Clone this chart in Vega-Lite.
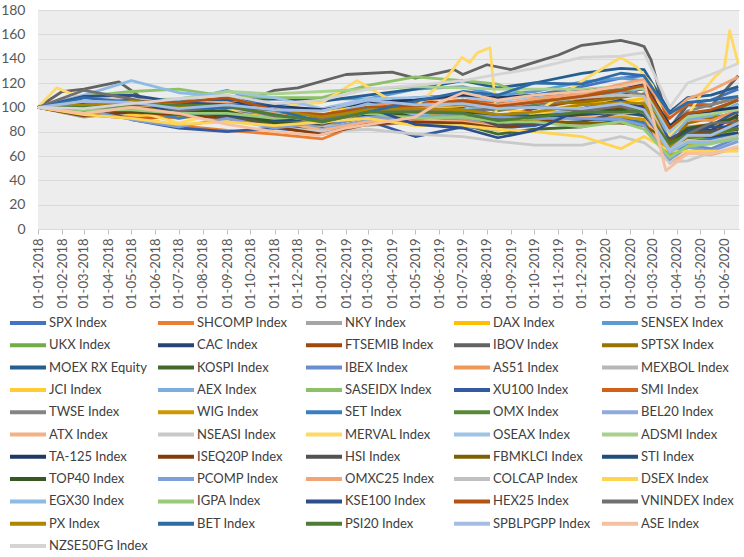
{
"$schema":"https://vega.github.io/schema/vega-lite/v6.json",
"width":701,"height":219,
"autosize":{"type":"none"},
"padding":{"left":38,"top":10,"right":5,"bottom":328},
"background":"white",
"config":{"view":{"fill":"#EDEDED","stroke":null},"font":"Lato"},
"data":{"values":[
{"s":"SPX","d":"2018-01","v":100},{"s":"SPX","d":"2018-03","v":101},{"s":"SPX","d":"2018-05","v":98},{"s":"SPX","d":"2018-07","v":101},{"s":"SPX","d":"2018-09","v":108},{"s":"SPX","d":"2018-11","v":101},{"s":"SPX","d":"2019-01","v":93},{"s":"SPX","d":"2019-03","v":104},{"s":"SPX","d":"2019-05","v":108},{"s":"SPX","d":"2019-07","v":110},{"s":"SPX","d":"2019-08-15","v":106},{"s":"SPX","d":"2019-10","v":110},{"s":"SPX","d":"2019-12","v":117},{"s":"SPX","d":"2020-01-20","v":124},{"s":"SPX","d":"2020-02-19","v":126},{"s":"SPX","d":"2020-03-23","v":83},{"s":"SPX","d":"2020-04-15","v":103},{"s":"SPX","d":"2020-05-15","v":106},{"s":"SPX","d":"2020-06-19","v":115},
{"s":"SHCOMP","d":"2018-01","v":100},{"s":"SHCOMP","d":"2018-03","v":98},{"s":"SHCOMP","d":"2018-05","v":92},{"s":"SHCOMP","d":"2018-07","v":85},{"s":"SHCOMP","d":"2018-09","v":81},{"s":"SHCOMP","d":"2018-11","v":78},{"s":"SHCOMP","d":"2019-01","v":74},{"s":"SHCOMP","d":"2019-03","v":89},{"s":"SHCOMP","d":"2019-05","v":92},{"s":"SHCOMP","d":"2019-07","v":90},{"s":"SHCOMP","d":"2019-08-15","v":84},{"s":"SHCOMP","d":"2019-10","v":87},{"s":"SHCOMP","d":"2019-12","v":86},{"s":"SHCOMP","d":"2020-01-20","v":92},{"s":"SHCOMP","d":"2020-02-19","v":89},{"s":"SHCOMP","d":"2020-03-23","v":79},{"s":"SHCOMP","d":"2020-04-15","v":84},{"s":"SHCOMP","d":"2020-05-15","v":86},{"s":"SHCOMP","d":"2020-06-19","v":89},
{"s":"NKY","d":"2018-01","v":100},{"s":"NKY","d":"2018-03","v":92},{"s":"NKY","d":"2018-05","v":96},{"s":"NKY","d":"2018-07","v":95},{"s":"NKY","d":"2018-09","v":97},{"s":"NKY","d":"2018-11","v":92},{"s":"NKY","d":"2019-01","v":85},{"s":"NKY","d":"2019-03","v":92},{"s":"NKY","d":"2019-05","v":95},{"s":"NKY","d":"2019-07","v":91},{"s":"NKY","d":"2019-08-15","v":87},{"s":"NKY","d":"2019-10","v":93},{"s":"NKY","d":"2019-12","v":99},{"s":"NKY","d":"2020-01-20","v":102},{"s":"NKY","d":"2020-02-19","v":100},{"s":"NKY","d":"2020-03-23","v":72},{"s":"NKY","d":"2020-04-15","v":83},{"s":"NKY","d":"2020-05-15","v":85},{"s":"NKY","d":"2020-06-19","v":96},
{"s":"DAX","d":"2018-01","v":100},{"s":"DAX","d":"2018-03","v":95},{"s":"DAX","d":"2018-05","v":98},{"s":"DAX","d":"2018-07","v":96},{"s":"DAX","d":"2018-09","v":96},{"s":"DAX","d":"2018-11","v":89},{"s":"DAX","d":"2019-01","v":82},{"s":"DAX","d":"2019-03","v":89},{"s":"DAX","d":"2019-05","v":96},{"s":"DAX","d":"2019-07","v":97},{"s":"DAX","d":"2019-08-15","v":89},{"s":"DAX","d":"2019-10","v":95},{"s":"DAX","d":"2019-12","v":103},{"s":"DAX","d":"2020-01-20","v":105},{"s":"DAX","d":"2020-02-19","v":107},{"s":"DAX","d":"2020-03-23","v":68},{"s":"DAX","d":"2020-04-15","v":80},{"s":"DAX","d":"2020-05-15","v":81},{"s":"DAX","d":"2020-06-19","v":96},
{"s":"SENSEX","d":"2018-01","v":100},{"s":"SENSEX","d":"2018-03","v":101},{"s":"SENSEX","d":"2018-05","v":104},{"s":"SENSEX","d":"2018-07","v":105},{"s":"SENSEX","d":"2018-09","v":114},{"s":"SENSEX","d":"2018-11","v":102},{"s":"SENSEX","d":"2019-01","v":107},{"s":"SENSEX","d":"2019-03","v":107},{"s":"SENSEX","d":"2019-05","v":115},{"s":"SENSEX","d":"2019-07","v":117},{"s":"SENSEX","d":"2019-08-15","v":110},{"s":"SENSEX","d":"2019-10","v":113},{"s":"SENSEX","d":"2019-12","v":121},{"s":"SENSEX","d":"2020-01-20","v":124},{"s":"SENSEX","d":"2020-02-19","v":122},{"s":"SENSEX","d":"2020-03-23","v":77},{"s":"SENSEX","d":"2020-04-15","v":90},{"s":"SENSEX","d":"2020-05-15","v":92},{"s":"SENSEX","d":"2020-06-19","v":103},
{"s":"UKX","d":"2018-01","v":100},{"s":"UKX","d":"2018-03","v":93},{"s":"UKX","d":"2018-05","v":98},{"s":"UKX","d":"2018-07","v":99},{"s":"UKX","d":"2018-09","v":97},{"s":"UKX","d":"2018-11","v":93},{"s":"UKX","d":"2019-01","v":88},{"s":"UKX","d":"2019-03","v":92},{"s":"UKX","d":"2019-05","v":96},{"s":"UKX","d":"2019-07","v":98},{"s":"UKX","d":"2019-08-15","v":92},{"s":"UKX","d":"2019-10","v":96},{"s":"UKX","d":"2019-12","v":95},{"s":"UKX","d":"2020-01-20","v":100},{"s":"UKX","d":"2020-02-19","v":97},{"s":"UKX","d":"2020-03-23","v":65},{"s":"UKX","d":"2020-04-15","v":73},{"s":"UKX","d":"2020-05-15","v":75},{"s":"UKX","d":"2020-06-19","v":82},
{"s":"CAC","d":"2018-01","v":100},{"s":"CAC","d":"2018-03","v":99},{"s":"CAC","d":"2018-05","v":104},{"s":"CAC","d":"2018-07","v":100},{"s":"CAC","d":"2018-09","v":102},{"s":"CAC","d":"2018-11","v":96},{"s":"CAC","d":"2019-01","v":89},{"s":"CAC","d":"2019-03","v":99},{"s":"CAC","d":"2019-05","v":104},{"s":"CAC","d":"2019-07","v":104},{"s":"CAC","d":"2019-08-15","v":99},{"s":"CAC","d":"2019-10","v":102},{"s":"CAC","d":"2019-12","v":111},{"s":"CAC","d":"2020-01-20","v":114},{"s":"CAC","d":"2020-02-19","v":115},{"s":"CAC","d":"2020-03-23","v":71},{"s":"CAC","d":"2020-04-15","v":82},{"s":"CAC","d":"2020-05-15","v":81},{"s":"CAC","d":"2020-06-19","v":94},
{"s":"FTSEMIB","d":"2018-01","v":100},{"s":"FTSEMIB","d":"2018-03","v":102},{"s":"FTSEMIB","d":"2018-05","v":110},{"s":"FTSEMIB","d":"2018-07","v":99},{"s":"FTSEMIB","d":"2018-09","v":93},{"s":"FTSEMIB","d":"2018-11","v":87},{"s":"FTSEMIB","d":"2019-01","v":84},{"s":"FTSEMIB","d":"2019-03","v":94},{"s":"FTSEMIB","d":"2019-05","v":100},{"s":"FTSEMIB","d":"2019-07","v":99},{"s":"FTSEMIB","d":"2019-08-15","v":92},{"s":"FTSEMIB","d":"2019-10","v":99},{"s":"FTSEMIB","d":"2019-12","v":106},{"s":"FTSEMIB","d":"2020-01-20","v":110},{"s":"FTSEMIB","d":"2020-02-19","v":116},{"s":"FTSEMIB","d":"2020-03-23","v":69},{"s":"FTSEMIB","d":"2020-04-15","v":80},{"s":"FTSEMIB","d":"2020-05-15","v":77},{"s":"FTSEMIB","d":"2020-06-19","v":90},
{"s":"IBOV","d":"2018-01","v":100},{"s":"IBOV","d":"2018-02","v":113},{"s":"IBOV","d":"2018-03","v":115},{"s":"IBOV","d":"2018-04-15","v":121},{"s":"IBOV","d":"2018-06","v":100},{"s":"IBOV","d":"2018-07","v":96},{"s":"IBOV","d":"2018-09","v":98},{"s":"IBOV","d":"2018-10-15","v":110},{"s":"IBOV","d":"2018-11","v":114},{"s":"IBOV","d":"2018-12","v":116},{"s":"IBOV","d":"2019-02","v":127},{"s":"IBOV","d":"2019-04","v":129},{"s":"IBOV","d":"2019-05","v":124},{"s":"IBOV","d":"2019-06-20","v":131},{"s":"IBOV","d":"2019-07","v":127},{"s":"IBOV","d":"2019-08","v":135},{"s":"IBOV","d":"2019-09","v":131},{"s":"IBOV","d":"2019-10","v":137},{"s":"IBOV","d":"2019-11","v":143},{"s":"IBOV","d":"2019-12","v":151},{"s":"IBOV","d":"2020-01-20","v":155},{"s":"IBOV","d":"2020-02-10","v":152},{"s":"IBOV","d":"2020-02-19","v":150},{"s":"IBOV","d":"2020-02-28","v":139},{"s":"IBOV","d":"2020-03-23","v":82},{"s":"IBOV","d":"2020-04-15","v":102},{"s":"IBOV","d":"2020-05-15","v":101},{"s":"IBOV","d":"2020-06-19","v":126},
{"s":"SPTSX","d":"2018-01","v":100},{"s":"SPTSX","d":"2018-03","v":95},{"s":"SPTSX","d":"2018-05","v":96},{"s":"SPTSX","d":"2018-07","v":100},{"s":"SPTSX","d":"2018-09","v":100},{"s":"SPTSX","d":"2018-11","v":93},{"s":"SPTSX","d":"2019-01","v":88},{"s":"SPTSX","d":"2019-03","v":99},{"s":"SPTSX","d":"2019-05","v":102},{"s":"SPTSX","d":"2019-07","v":101},{"s":"SPTSX","d":"2019-08-15","v":100},{"s":"SPTSX","d":"2019-10","v":103},{"s":"SPTSX","d":"2019-12","v":104},{"s":"SPTSX","d":"2020-01-20","v":108},{"s":"SPTSX","d":"2020-02-19","v":111},{"s":"SPTSX","d":"2020-03-23","v":69},{"s":"SPTSX","d":"2020-04-15","v":87},{"s":"SPTSX","d":"2020-05-15","v":91},{"s":"SPTSX","d":"2020-06-19","v":96},
{"s":"MOEX RX","d":"2018-01","v":100},{"s":"MOEX RX","d":"2018-03","v":107},{"s":"MOEX RX","d":"2018-05","v":103},{"s":"MOEX RX","d":"2018-07","v":104},{"s":"MOEX RX","d":"2018-09","v":106},{"s":"MOEX RX","d":"2018-11","v":107},{"s":"MOEX RX","d":"2019-01","v":105},{"s":"MOEX RX","d":"2019-03","v":110},{"s":"MOEX RX","d":"2019-05","v":115},{"s":"MOEX RX","d":"2019-07","v":122},{"s":"MOEX RX","d":"2019-08-15","v":116},{"s":"MOEX RX","d":"2019-10","v":120},{"s":"MOEX RX","d":"2019-12","v":128},{"s":"MOEX RX","d":"2020-01-20","v":132},{"s":"MOEX RX","d":"2020-02-19","v":131},{"s":"MOEX RX","d":"2020-03-23","v":96},{"s":"MOEX RX","d":"2020-04-15","v":108},{"s":"MOEX RX","d":"2020-05-15","v":110},{"s":"MOEX RX","d":"2020-06-19","v":117},
{"s":"KOSPI","d":"2018-01","v":100},{"s":"KOSPI","d":"2018-03","v":98},{"s":"KOSPI","d":"2018-05","v":101},{"s":"KOSPI","d":"2018-07","v":94},{"s":"KOSPI","d":"2018-09","v":93},{"s":"KOSPI","d":"2018-11","v":85},{"s":"KOSPI","d":"2019-01","v":82},{"s":"KOSPI","d":"2019-03","v":89},{"s":"KOSPI","d":"2019-05","v":89},{"s":"KOSPI","d":"2019-07","v":86},{"s":"KOSPI","d":"2019-08-15","v":78},{"s":"KOSPI","d":"2019-10","v":82},{"s":"KOSPI","d":"2019-12","v":84},{"s":"KOSPI","d":"2020-01-20","v":91},{"s":"KOSPI","d":"2020-02-19","v":89},{"s":"KOSPI","d":"2020-03-23","v":60},{"s":"KOSPI","d":"2020-04-15","v":75},{"s":"KOSPI","d":"2020-05-15","v":78},{"s":"KOSPI","d":"2020-06-19","v":86},
{"s":"IBEX","d":"2018-01","v":100},{"s":"IBEX","d":"2018-03","v":96},{"s":"IBEX","d":"2018-05","v":99},{"s":"IBEX","d":"2018-07","v":96},{"s":"IBEX","d":"2018-09","v":94},{"s":"IBEX","d":"2018-11","v":90},{"s":"IBEX","d":"2019-01","v":85},{"s":"IBEX","d":"2019-03","v":92},{"s":"IBEX","d":"2019-05","v":92},{"s":"IBEX","d":"2019-07","v":92},{"s":"IBEX","d":"2019-08-15","v":87},{"s":"IBEX","d":"2019-10","v":91},{"s":"IBEX","d":"2019-12","v":93},{"s":"IBEX","d":"2020-01-20","v":96},{"s":"IBEX","d":"2020-02-19","v":100},{"s":"IBEX","d":"2020-03-23","v":62},{"s":"IBEX","d":"2020-04-15","v":69},{"s":"IBEX","d":"2020-05-15","v":66},{"s":"IBEX","d":"2020-06-19","v":75},
{"s":"AS51","d":"2018-01","v":100},{"s":"AS51","d":"2018-03","v":97},{"s":"AS51","d":"2018-05","v":99},{"s":"AS51","d":"2018-07","v":102},{"s":"AS51","d":"2018-09","v":104},{"s":"AS51","d":"2018-11","v":96},{"s":"AS51","d":"2019-01","v":93},{"s":"AS51","d":"2019-03","v":102},{"s":"AS51","d":"2019-05","v":105},{"s":"AS51","d":"2019-07","v":109},{"s":"AS51","d":"2019-08-15","v":105},{"s":"AS51","d":"2019-10","v":110},{"s":"AS51","d":"2019-12","v":111},{"s":"AS51","d":"2020-01-20","v":117},{"s":"AS51","d":"2020-02-19","v":118},{"s":"AS51","d":"2020-03-23","v":75},{"s":"AS51","d":"2020-04-15","v":90},{"s":"AS51","d":"2020-05-15","v":89},{"s":"AS51","d":"2020-06-19","v":98},
{"s":"MEXBOL","d":"2018-01","v":100},{"s":"MEXBOL","d":"2018-03","v":95},{"s":"MEXBOL","d":"2018-05","v":94},{"s":"MEXBOL","d":"2018-07","v":97},{"s":"MEXBOL","d":"2018-09","v":100},{"s":"MEXBOL","d":"2018-11","v":87},{"s":"MEXBOL","d":"2019-01","v":85},{"s":"MEXBOL","d":"2019-03","v":85},{"s":"MEXBOL","d":"2019-05","v":88},{"s":"MEXBOL","d":"2019-07","v":85},{"s":"MEXBOL","d":"2019-08-15","v":81},{"s":"MEXBOL","d":"2019-10","v":87},{"s":"MEXBOL","d":"2019-12","v":86},{"s":"MEXBOL","d":"2020-01-20","v":92},{"s":"MEXBOL","d":"2020-02-19","v":90},{"s":"MEXBOL","d":"2020-03-23","v":67},{"s":"MEXBOL","d":"2020-04-15","v":70},{"s":"MEXBOL","d":"2020-05-15","v":72},{"s":"MEXBOL","d":"2020-06-19","v":78},
{"s":"JCI","d":"2018-01","v":100},{"s":"JCI","d":"2018-03","v":104},{"s":"JCI","d":"2018-05","v":94},{"s":"JCI","d":"2018-07","v":91},{"s":"JCI","d":"2018-09","v":95},{"s":"JCI","d":"2018-11","v":92},{"s":"JCI","d":"2019-01","v":97},{"s":"JCI","d":"2019-03","v":101},{"s":"JCI","d":"2019-05","v":99},{"s":"JCI","d":"2019-07","v":100},{"s":"JCI","d":"2019-08-15","v":99},{"s":"JCI","d":"2019-10","v":95},{"s":"JCI","d":"2019-12","v":96},{"s":"JCI","d":"2020-01-20","v":98},{"s":"JCI","d":"2020-02-19","v":93},{"s":"JCI","d":"2020-03-23","v":63},{"s":"JCI","d":"2020-04-15","v":73},{"s":"JCI","d":"2020-05-15","v":71},{"s":"JCI","d":"2020-06-19","v":78},
{"s":"AEX","d":"2018-01","v":100},{"s":"AEX","d":"2018-03","v":95},{"s":"AEX","d":"2018-05","v":103},{"s":"AEX","d":"2018-07","v":101},{"s":"AEX","d":"2018-09","v":101},{"s":"AEX","d":"2018-11","v":95},{"s":"AEX","d":"2019-01","v":90},{"s":"AEX","d":"2019-03","v":99},{"s":"AEX","d":"2019-05","v":102},{"s":"AEX","d":"2019-07","v":106},{"s":"AEX","d":"2019-08-15","v":100},{"s":"AEX","d":"2019-10","v":105},{"s":"AEX","d":"2019-12","v":110},{"s":"AEX","d":"2020-01-20","v":112},{"s":"AEX","d":"2020-02-19","v":116},{"s":"AEX","d":"2020-03-23","v":75},{"s":"AEX","d":"2020-04-15","v":90},{"s":"AEX","d":"2020-05-15","v":93},{"s":"AEX","d":"2020-06-19","v":103},
{"s":"SASEIDX","d":"2018-01","v":100},{"s":"SASEIDX","d":"2018-03","v":109},{"s":"SASEIDX","d":"2018-05","v":113},{"s":"SASEIDX","d":"2018-07","v":115},{"s":"SASEIDX","d":"2018-09","v":109},{"s":"SASEIDX","d":"2018-11","v":108},{"s":"SASEIDX","d":"2019-01","v":108},{"s":"SASEIDX","d":"2019-03","v":118},{"s":"SASEIDX","d":"2019-05","v":125},{"s":"SASEIDX","d":"2019-07","v":122},{"s":"SASEIDX","d":"2019-08-15","v":119},{"s":"SASEIDX","d":"2019-10","v":108},{"s":"SASEIDX","d":"2019-12","v":109},{"s":"SASEIDX","d":"2020-01-20","v":116},{"s":"SASEIDX","d":"2020-02-19","v":109},{"s":"SASEIDX","d":"2020-03-23","v":82},{"s":"SASEIDX","d":"2020-04-15","v":93},{"s":"SASEIDX","d":"2020-05-15","v":94},{"s":"SASEIDX","d":"2020-06-19","v":100},
{"s":"XU100","d":"2018-01","v":100},{"s":"XU100","d":"2018-03","v":102},{"s":"XU100","d":"2018-05","v":90},{"s":"XU100","d":"2018-07","v":83},{"s":"XU100","d":"2018-09","v":80},{"s":"XU100","d":"2018-11","v":83},{"s":"XU100","d":"2019-01","v":79},{"s":"XU100","d":"2019-03","v":89},{"s":"XU100","d":"2019-05","v":76},{"s":"XU100","d":"2019-07","v":84},{"s":"XU100","d":"2019-08-15","v":83},{"s":"XU100","d":"2019-10","v":85},{"s":"XU100","d":"2019-12","v":94},{"s":"XU100","d":"2020-01-20","v":104},{"s":"XU100","d":"2020-02-19","v":99},{"s":"XU100","d":"2020-03-23","v":74},{"s":"XU100","d":"2020-04-15","v":82},{"s":"XU100","d":"2020-05-15","v":85},{"s":"XU100","d":"2020-06-19","v":97},
{"s":"SMI","d":"2018-01","v":100},{"s":"SMI","d":"2018-03","v":94},{"s":"SMI","d":"2018-05","v":91},{"s":"SMI","d":"2018-07","v":92},{"s":"SMI","d":"2018-09","v":96},{"s":"SMI","d":"2018-11","v":96},{"s":"SMI","d":"2019-01","v":90},{"s":"SMI","d":"2019-03","v":100},{"s":"SMI","d":"2019-05","v":102},{"s":"SMI","d":"2019-07","v":106},{"s":"SMI","d":"2019-08-15","v":103},{"s":"SMI","d":"2019-10","v":105},{"s":"SMI","d":"2019-12","v":111},{"s":"SMI","d":"2020-01-20","v":116},{"s":"SMI","d":"2020-02-19","v":119},{"s":"SMI","d":"2020-03-23","v":91},{"s":"SMI","d":"2020-04-15","v":103},{"s":"SMI","d":"2020-05-15","v":102},{"s":"SMI","d":"2020-06-19","v":108},
{"s":"TWSE","d":"2018-01","v":100},{"s":"TWSE","d":"2018-03","v":102},{"s":"TWSE","d":"2018-05","v":101},{"s":"TWSE","d":"2018-07","v":102},{"s":"TWSE","d":"2018-09","v":103},{"s":"TWSE","d":"2018-11","v":92},{"s":"TWSE","d":"2019-01","v":91},{"s":"TWSE","d":"2019-03","v":98},{"s":"TWSE","d":"2019-05","v":102},{"s":"TWSE","d":"2019-07","v":102},{"s":"TWSE","d":"2019-08-15","v":97},{"s":"TWSE","d":"2019-10","v":102},{"s":"TWSE","d":"2019-12","v":108},{"s":"TWSE","d":"2020-01-20","v":114},{"s":"TWSE","d":"2020-02-19","v":110},{"s":"TWSE","d":"2020-03-23","v":84},{"s":"TWSE","d":"2020-04-15","v":97},{"s":"TWSE","d":"2020-05-15","v":102},{"s":"TWSE","d":"2020-06-19","v":108},
{"s":"WIG","d":"2018-01","v":100},{"s":"WIG","d":"2018-03","v":98},{"s":"WIG","d":"2018-05","v":96},{"s":"WIG","d":"2018-07","v":92},{"s":"WIG","d":"2018-09","v":95},{"s":"WIG","d":"2018-11","v":90},{"s":"WIG","d":"2019-01","v":92},{"s":"WIG","d":"2019-03","v":94},{"s":"WIG","d":"2019-05","v":94},{"s":"WIG","d":"2019-07","v":96},{"s":"WIG","d":"2019-08-15","v":90},{"s":"WIG","d":"2019-10","v":90},{"s":"WIG","d":"2019-12","v":91},{"s":"WIG","d":"2020-01-20","v":92},{"s":"WIG","d":"2020-02-19","v":90},{"s":"WIG","d":"2020-03-23","v":60},{"s":"WIG","d":"2020-04-15","v":70},{"s":"WIG","d":"2020-05-15","v":71},{"s":"WIG","d":"2020-06-19","v":79},
{"s":"SET","d":"2018-01","v":100},{"s":"SET","d":"2018-03","v":103},{"s":"SET","d":"2018-05","v":100},{"s":"SET","d":"2018-07","v":91},{"s":"SET","d":"2018-09","v":98},{"s":"SET","d":"2018-11","v":95},{"s":"SET","d":"2019-01","v":89},{"s":"SET","d":"2019-03","v":94},{"s":"SET","d":"2019-05","v":94},{"s":"SET","d":"2019-07","v":99},{"s":"SET","d":"2019-08-15","v":94},{"s":"SET","d":"2019-10","v":93},{"s":"SET","d":"2019-12","v":90},{"s":"SET","d":"2020-01-20","v":90},{"s":"SET","d":"2020-02-19","v":87},{"s":"SET","d":"2020-03-23","v":58},{"s":"SET","d":"2020-04-15","v":71},{"s":"SET","d":"2020-05-15","v":74},{"s":"SET","d":"2020-06-19","v":79},
{"s":"OMX","d":"2018-01","v":100},{"s":"OMX","d":"2018-03","v":96},{"s":"OMX","d":"2018-05","v":99},{"s":"OMX","d":"2018-07","v":99},{"s":"OMX","d":"2018-09","v":103},{"s":"OMX","d":"2018-11","v":96},{"s":"OMX","d":"2019-01","v":88},{"s":"OMX","d":"2019-03","v":99},{"s":"OMX","d":"2019-05","v":101},{"s":"OMX","d":"2019-07","v":103},{"s":"OMX","d":"2019-08-15","v":98},{"s":"OMX","d":"2019-10","v":103},{"s":"OMX","d":"2019-12","v":108},{"s":"OMX","d":"2020-01-20","v":115},{"s":"OMX","d":"2020-02-19","v":118},{"s":"OMX","d":"2020-03-23","v":83},{"s":"OMX","d":"2020-04-15","v":95},{"s":"OMX","d":"2020-05-15","v":96},{"s":"OMX","d":"2020-06-19","v":106},
{"s":"BEL20","d":"2018-01","v":100},{"s":"BEL20","d":"2018-03","v":96},{"s":"BEL20","d":"2018-05","v":101},{"s":"BEL20","d":"2018-07","v":95},{"s":"BEL20","d":"2018-09","v":94},{"s":"BEL20","d":"2018-11","v":89},{"s":"BEL20","d":"2019-01","v":82},{"s":"BEL20","d":"2019-03","v":89},{"s":"BEL20","d":"2019-05","v":91},{"s":"BEL20","d":"2019-07","v":94},{"s":"BEL20","d":"2019-08-15","v":89},{"s":"BEL20","d":"2019-10","v":92},{"s":"BEL20","d":"2019-12","v":99},{"s":"BEL20","d":"2020-01-20","v":101},{"s":"BEL20","d":"2020-02-19","v":104},{"s":"BEL20","d":"2020-03-23","v":68},{"s":"BEL20","d":"2020-04-15","v":81},{"s":"BEL20","d":"2020-05-15","v":78},{"s":"BEL20","d":"2020-06-19","v":84},
{"s":"ATX","d":"2018-01","v":100},{"s":"ATX","d":"2018-03","v":96},{"s":"ATX","d":"2018-05","v":101},{"s":"ATX","d":"2018-07","v":96},{"s":"ATX","d":"2018-09","v":97},{"s":"ATX","d":"2018-11","v":89},{"s":"ATX","d":"2019-01","v":81},{"s":"ATX","d":"2019-03","v":88},{"s":"ATX","d":"2019-05","v":89},{"s":"ATX","d":"2019-07","v":88},{"s":"ATX","d":"2019-08-15","v":84},{"s":"ATX","d":"2019-10","v":88},{"s":"ATX","d":"2019-12","v":92},{"s":"ATX","d":"2020-01-20","v":94},{"s":"ATX","d":"2020-02-19","v":94},{"s":"ATX","d":"2020-03-23","v":54},{"s":"ATX","d":"2020-04-15","v":63},{"s":"ATX","d":"2020-05-15","v":61},{"s":"ATX","d":"2020-06-19","v":67},
{"s":"NSEASI","d":"2018-01","v":100},{"s":"NSEASI","d":"2018-03","v":110},{"s":"NSEASI","d":"2018-05","v":106},{"s":"NSEASI","d":"2018-07","v":96},{"s":"NSEASI","d":"2018-09","v":89},{"s":"NSEASI","d":"2018-11","v":84},{"s":"NSEASI","d":"2019-01","v":80},{"s":"NSEASI","d":"2019-03","v":82},{"s":"NSEASI","d":"2019-05","v":78},{"s":"NSEASI","d":"2019-07","v":76},{"s":"NSEASI","d":"2019-08-15","v":72},{"s":"NSEASI","d":"2019-10","v":69},{"s":"NSEASI","d":"2019-12","v":69},{"s":"NSEASI","d":"2020-01-20","v":76},{"s":"NSEASI","d":"2020-02-19","v":71},{"s":"NSEASI","d":"2020-03-23","v":55},{"s":"NSEASI","d":"2020-04-15","v":56},{"s":"NSEASI","d":"2020-05-15","v":63},{"s":"NSEASI","d":"2020-06-19","v":65},
{"s":"MERVAL","d":"2018-01","v":100},{"s":"MERVAL","d":"2018-01-25","v":116},{"s":"MERVAL","d":"2018-03","v":107},{"s":"MERVAL","d":"2018-05","v":98},{"s":"MERVAL","d":"2018-07","v":87},{"s":"MERVAL","d":"2018-09","v":97},{"s":"MERVAL","d":"2018-11","v":100},{"s":"MERVAL","d":"2019-01","v":104},{"s":"MERVAL","d":"2019-02-15","v":122},{"s":"MERVAL","d":"2019-04","v":105},{"s":"MERVAL","d":"2019-05","v":100},{"s":"MERVAL","d":"2019-06-11","v":125},{"s":"MERVAL","d":"2019-06-30","v":141},{"s":"MERVAL","d":"2019-07-10","v":137},{"s":"MERVAL","d":"2019-07-20","v":145},{"s":"MERVAL","d":"2019-08-05","v":149},{"s":"MERVAL","d":"2019-08-13","v":95},{"s":"MERVAL","d":"2019-09","v":85},{"s":"MERVAL","d":"2019-10","v":95},{"s":"MERVAL","d":"2019-11","v":108},{"s":"MERVAL","d":"2019-12-02","v":122},{"s":"MERVAL","d":"2020-01-20","v":141},{"s":"MERVAL","d":"2020-02-10","v":133},{"s":"MERVAL","d":"2020-03","v":118},{"s":"MERVAL","d":"2020-03-23","v":77},{"s":"MERVAL","d":"2020-04-15","v":93},{"s":"MERVAL","d":"2020-05","v":110},{"s":"MERVAL","d":"2020-05-20","v":125},{"s":"MERVAL","d":"2020-06","v":132},{"s":"MERVAL","d":"2020-06-08","v":163},{"s":"MERVAL","d":"2020-06-19","v":136},
{"s":"OSEAX","d":"2018-01","v":100},{"s":"OSEAX","d":"2018-03","v":98},{"s":"OSEAX","d":"2018-05","v":106},{"s":"OSEAX","d":"2018-07","v":107},{"s":"OSEAX","d":"2018-09","v":113},{"s":"OSEAX","d":"2018-11","v":108},{"s":"OSEAX","d":"2019-01","v":99},{"s":"OSEAX","d":"2019-03","v":107},{"s":"OSEAX","d":"2019-05","v":108},{"s":"OSEAX","d":"2019-07","v":109},{"s":"OSEAX","d":"2019-08-15","v":105},{"s":"OSEAX","d":"2019-10","v":109},{"s":"OSEAX","d":"2019-12","v":114},{"s":"OSEAX","d":"2020-01-20","v":117},{"s":"OSEAX","d":"2020-02-19","v":115},{"s":"OSEAX","d":"2020-03-23","v":80},{"s":"OSEAX","d":"2020-04-15","v":93},{"s":"OSEAX","d":"2020-05-15","v":95},{"s":"OSEAX","d":"2020-06-19","v":101},
{"s":"ADSMI","d":"2018-01","v":100},{"s":"ADSMI","d":"2018-03","v":105},{"s":"ADSMI","d":"2018-05","v":105},{"s":"ADSMI","d":"2018-07","v":107},{"s":"ADSMI","d":"2018-09","v":113},{"s":"ADSMI","d":"2018-11","v":111},{"s":"ADSMI","d":"2019-01","v":113},{"s":"ADSMI","d":"2019-03","v":115},{"s":"ADSMI","d":"2019-05","v":117},{"s":"ADSMI","d":"2019-07","v":116},{"s":"ADSMI","d":"2019-08-15","v":115},{"s":"ADSMI","d":"2019-10","v":115},{"s":"ADSMI","d":"2019-12","v":115},{"s":"ADSMI","d":"2020-01-20","v":117},{"s":"ADSMI","d":"2020-02-19","v":115},{"s":"ADSMI","d":"2020-03-23","v":83},{"s":"ADSMI","d":"2020-04-15","v":92},{"s":"ADSMI","d":"2020-05-15","v":95},{"s":"ADSMI","d":"2020-06-19","v":98},
{"s":"TA-125","d":"2018-01","v":100},{"s":"TA-125","d":"2018-03","v":98},{"s":"TA-125","d":"2018-05","v":99},{"s":"TA-125","d":"2018-07","v":101},{"s":"TA-125","d":"2018-09","v":104},{"s":"TA-125","d":"2018-11","v":101},{"s":"TA-125","d":"2019-01","v":98},{"s":"TA-125","d":"2019-03","v":104},{"s":"TA-125","d":"2019-05","v":106},{"s":"TA-125","d":"2019-07","v":110},{"s":"TA-125","d":"2019-08-15","v":108},{"s":"TA-125","d":"2019-10","v":110},{"s":"TA-125","d":"2019-12","v":113},{"s":"TA-125","d":"2020-01-20","v":117},{"s":"TA-125","d":"2020-02-19","v":119},{"s":"TA-125","d":"2020-03-23","v":85},{"s":"TA-125","d":"2020-04-15","v":95},{"s":"TA-125","d":"2020-05-15","v":97},{"s":"TA-125","d":"2020-06-19","v":100},
{"s":"ISEQ20P","d":"2018-01","v":100},{"s":"ISEQ20P","d":"2018-03","v":93},{"s":"ISEQ20P","d":"2018-05","v":96},{"s":"ISEQ20P","d":"2018-07","v":94},{"s":"ISEQ20P","d":"2018-09","v":91},{"s":"ISEQ20P","d":"2018-11","v":84},{"s":"ISEQ20P","d":"2019-01","v":78},{"s":"ISEQ20P","d":"2019-03","v":86},{"s":"ISEQ20P","d":"2019-05","v":88},{"s":"ISEQ20P","d":"2019-07","v":87},{"s":"ISEQ20P","d":"2019-08-15","v":83},{"s":"ISEQ20P","d":"2019-10","v":87},{"s":"ISEQ20P","d":"2019-12","v":95},{"s":"ISEQ20P","d":"2020-01-20","v":100},{"s":"ISEQ20P","d":"2020-02-19","v":101},{"s":"ISEQ20P","d":"2020-03-23","v":70},{"s":"ISEQ20P","d":"2020-04-15","v":78},{"s":"ISEQ20P","d":"2020-05-15","v":80},{"s":"ISEQ20P","d":"2020-06-19","v":86},
{"s":"HSI","d":"2018-01","v":100},{"s":"HSI","d":"2018-03","v":103},{"s":"HSI","d":"2018-05","v":103},{"s":"HSI","d":"2018-07","v":97},{"s":"HSI","d":"2018-09","v":93},{"s":"HSI","d":"2018-11","v":88},{"s":"HSI","d":"2019-01","v":86},{"s":"HSI","d":"2019-03","v":96},{"s":"HSI","d":"2019-05","v":98},{"s":"HSI","d":"2019-07","v":95},{"s":"HSI","d":"2019-08-15","v":85},{"s":"HSI","d":"2019-10","v":87},{"s":"HSI","d":"2019-12","v":88},{"s":"HSI","d":"2020-01-20","v":96},{"s":"HSI","d":"2020-02-19","v":93},{"s":"HSI","d":"2020-03-23","v":73},{"s":"HSI","d":"2020-04-15","v":82},{"s":"HSI","d":"2020-05-15","v":80},{"s":"HSI","d":"2020-06-19","v":82},
{"s":"FBMKLCI","d":"2018-01","v":100},{"s":"FBMKLCI","d":"2018-03","v":103},{"s":"FBMKLCI","d":"2018-05","v":104},{"s":"FBMKLCI","d":"2018-07","v":94},{"s":"FBMKLCI","d":"2018-09","v":101},{"s":"FBMKLCI","d":"2018-11","v":95},{"s":"FBMKLCI","d":"2019-01","v":94},{"s":"FBMKLCI","d":"2019-03","v":94},{"s":"FBMKLCI","d":"2019-05","v":91},{"s":"FBMKLCI","d":"2019-07","v":93},{"s":"FBMKLCI","d":"2019-08-15","v":89},{"s":"FBMKLCI","d":"2019-10","v":88},{"s":"FBMKLCI","d":"2019-12","v":87},{"s":"FBMKLCI","d":"2020-01-20","v":87},{"s":"FBMKLCI","d":"2020-02-19","v":85},{"s":"FBMKLCI","d":"2020-03-23","v":72},{"s":"FBMKLCI","d":"2020-04-15","v":77},{"s":"FBMKLCI","d":"2020-05-15","v":78},{"s":"FBMKLCI","d":"2020-06-19","v":83},
{"s":"STI","d":"2018-01","v":100},{"s":"STI","d":"2018-03","v":103},{"s":"STI","d":"2018-05","v":106},{"s":"STI","d":"2018-07","v":95},{"s":"STI","d":"2018-09","v":94},{"s":"STI","d":"2018-11","v":90},{"s":"STI","d":"2019-01","v":90},{"s":"STI","d":"2019-03","v":94},{"s":"STI","d":"2019-05","v":97},{"s":"STI","d":"2019-07","v":99},{"s":"STI","d":"2019-08-15","v":92},{"s":"STI","d":"2019-10","v":92},{"s":"STI","d":"2019-12","v":94},{"s":"STI","d":"2020-01-20","v":96},{"s":"STI","d":"2020-02-19","v":94},{"s":"STI","d":"2020-03-23","v":68},{"s":"STI","d":"2020-04-15","v":77},{"s":"STI","d":"2020-05-15","v":76},{"s":"STI","d":"2020-06-19","v":79},
{"s":"TOP40","d":"2018-01","v":100},{"s":"TOP40","d":"2018-03","v":98},{"s":"TOP40","d":"2018-05","v":97},{"s":"TOP40","d":"2018-07","v":96},{"s":"TOP40","d":"2018-09","v":97},{"s":"TOP40","d":"2018-11","v":87},{"s":"TOP40","d":"2019-01","v":87},{"s":"TOP40","d":"2019-03","v":94},{"s":"TOP40","d":"2019-05","v":95},{"s":"TOP40","d":"2019-07","v":97},{"s":"TOP40","d":"2019-08-15","v":91},{"s":"TOP40","d":"2019-10","v":93},{"s":"TOP40","d":"2019-12","v":95},{"s":"TOP40","d":"2020-01-20","v":98},{"s":"TOP40","d":"2020-02-19","v":99},{"s":"TOP40","d":"2020-03-23","v":68},{"s":"TOP40","d":"2020-04-15","v":83},{"s":"TOP40","d":"2020-05-15","v":86},{"s":"TOP40","d":"2020-06-19","v":92},
{"s":"PCOMP","d":"2018-01","v":100},{"s":"PCOMP","d":"2018-03","v":98},{"s":"PCOMP","d":"2018-05","v":90},{"s":"PCOMP","d":"2018-07","v":84},{"s":"PCOMP","d":"2018-09","v":91},{"s":"PCOMP","d":"2018-11","v":83},{"s":"PCOMP","d":"2019-01","v":88},{"s":"PCOMP","d":"2019-03","v":92},{"s":"PCOMP","d":"2019-05","v":92},{"s":"PCOMP","d":"2019-07","v":94},{"s":"PCOMP","d":"2019-08-15","v":92},{"s":"PCOMP","d":"2019-10","v":91},{"s":"PCOMP","d":"2019-12","v":91},{"s":"PCOMP","d":"2020-01-20","v":90},{"s":"PCOMP","d":"2020-02-19","v":85},{"s":"PCOMP","d":"2020-03-23","v":57},{"s":"PCOMP","d":"2020-04-15","v":67},{"s":"PCOMP","d":"2020-05-15","v":64},{"s":"PCOMP","d":"2020-06-19","v":72},
{"s":"OMXC25","d":"2018-01","v":100},{"s":"OMXC25","d":"2018-03","v":95},{"s":"OMXC25","d":"2018-05","v":100},{"s":"OMXC25","d":"2018-07","v":104},{"s":"OMXC25","d":"2018-09","v":104},{"s":"OMXC25","d":"2018-11","v":95},{"s":"OMXC25","d":"2019-01","v":87},{"s":"OMXC25","d":"2019-03","v":96},{"s":"OMXC25","d":"2019-05","v":99},{"s":"OMXC25","d":"2019-07","v":104},{"s":"OMXC25","d":"2019-08-15","v":102},{"s":"OMXC25","d":"2019-10","v":107},{"s":"OMXC25","d":"2019-12","v":111},{"s":"OMXC25","d":"2020-01-20","v":119},{"s":"OMXC25","d":"2020-02-19","v":123},{"s":"OMXC25","d":"2020-03-23","v":94},{"s":"OMXC25","d":"2020-04-15","v":107},{"s":"OMXC25","d":"2020-05-15","v":114},{"s":"OMXC25","d":"2020-06-19","v":125},
{"s":"COLCAP","d":"2018-01","v":100},{"s":"COLCAP","d":"2018-03","v":100},{"s":"COLCAP","d":"2018-05","v":104},{"s":"COLCAP","d":"2018-07","v":103},{"s":"COLCAP","d":"2018-09","v":100},{"s":"COLCAP","d":"2018-11","v":93},{"s":"COLCAP","d":"2019-01","v":89},{"s":"COLCAP","d":"2019-03","v":100},{"s":"COLCAP","d":"2019-05","v":99},{"s":"COLCAP","d":"2019-07","v":104},{"s":"COLCAP","d":"2019-08-15","v":99},{"s":"COLCAP","d":"2019-10","v":104},{"s":"COLCAP","d":"2019-12","v":108},{"s":"COLCAP","d":"2020-01-20","v":110},{"s":"COLCAP","d":"2020-02-19","v":109},{"s":"COLCAP","d":"2020-03-23","v":67},{"s":"COLCAP","d":"2020-04-15","v":72},{"s":"COLCAP","d":"2020-05-15","v":72},{"s":"COLCAP","d":"2020-06-19","v":77},
{"s":"DSEX","d":"2018-01","v":100},{"s":"DSEX","d":"2018-03","v":94},{"s":"DSEX","d":"2018-05","v":91},{"s":"DSEX","d":"2018-07","v":86},{"s":"DSEX","d":"2018-09","v":88},{"s":"DSEX","d":"2018-11","v":85},{"s":"DSEX","d":"2019-01","v":88},{"s":"DSEX","d":"2019-03","v":91},{"s":"DSEX","d":"2019-05","v":85},{"s":"DSEX","d":"2019-07","v":85},{"s":"DSEX","d":"2019-08-15","v":82},{"s":"DSEX","d":"2019-10","v":80},{"s":"DSEX","d":"2019-12","v":76},{"s":"DSEX","d":"2020-01-20","v":66},{"s":"DSEX","d":"2020-02-19","v":76},{"s":"DSEX","d":"2020-03-23","v":64},{"s":"DSEX","d":"2020-04-15","v":64},{"s":"DSEX","d":"2020-05-15","v":64},{"s":"DSEX","d":"2020-06-19","v":64},
{"s":"EGX30","d":"2018-01","v":100},{"s":"EGX30","d":"2018-03","v":110},{"s":"EGX30","d":"2018-05","v":122},{"s":"EGX30","d":"2018-07","v":112},{"s":"EGX30","d":"2018-09","v":109},{"s":"EGX30","d":"2018-11","v":97},{"s":"EGX30","d":"2019-01","v":92},{"s":"EGX30","d":"2019-03","v":103},{"s":"EGX30","d":"2019-05","v":94},{"s":"EGX30","d":"2019-07","v":98},{"s":"EGX30","d":"2019-08-15","v":100},{"s":"EGX30","d":"2019-10","v":100},{"s":"EGX30","d":"2019-12","v":97},{"s":"EGX30","d":"2020-01-20","v":95},{"s":"EGX30","d":"2020-02-19","v":97},{"s":"EGX30","d":"2020-03-23","v":63},{"s":"EGX30","d":"2020-04-15","v":71},{"s":"EGX30","d":"2020-05-15","v":71},{"s":"EGX30","d":"2020-06-19","v":74},
{"s":"IGPA","d":"2018-01","v":100},{"s":"IGPA","d":"2018-03","v":98},{"s":"IGPA","d":"2018-05","v":98},{"s":"IGPA","d":"2018-07","v":95},{"s":"IGPA","d":"2018-09","v":95},{"s":"IGPA","d":"2018-11","v":91},{"s":"IGPA","d":"2019-01","v":93},{"s":"IGPA","d":"2019-03","v":95},{"s":"IGPA","d":"2019-05","v":91},{"s":"IGPA","d":"2019-07","v":92},{"s":"IGPA","d":"2019-08-15","v":88},{"s":"IGPA","d":"2019-10","v":88},{"s":"IGPA","d":"2019-12","v":84},{"s":"IGPA","d":"2020-01-20","v":88},{"s":"IGPA","d":"2020-02-19","v":82},{"s":"IGPA","d":"2020-03-23","v":59},{"s":"IGPA","d":"2020-04-15","v":68},{"s":"IGPA","d":"2020-05-15","v":70},{"s":"IGPA","d":"2020-06-19","v":75},
{"s":"KSE100","d":"2018-01","v":100},{"s":"KSE100","d":"2018-03","v":109},{"s":"KSE100","d":"2018-05","v":110},{"s":"KSE100","d":"2018-07","v":104},{"s":"KSE100","d":"2018-09","v":102},{"s":"KSE100","d":"2018-11","v":102},{"s":"KSE100","d":"2019-01","v":91},{"s":"KSE100","d":"2019-03","v":100},{"s":"KSE100","d":"2019-05","v":86},{"s":"KSE100","d":"2019-07","v":83},{"s":"KSE100","d":"2019-08-15","v":75},{"s":"KSE100","d":"2019-10","v":81},{"s":"KSE100","d":"2019-12","v":99},{"s":"KSE100","d":"2020-01-20","v":106},{"s":"KSE100","d":"2020-02-19","v":99},{"s":"KSE100","d":"2020-03-23","v":68},{"s":"KSE100","d":"2020-04-15","v":80},{"s":"KSE100","d":"2020-05-15","v":84},{"s":"KSE100","d":"2020-06-19","v":84},
{"s":"HEX25","d":"2018-01","v":100},{"s":"HEX25","d":"2018-03","v":99},{"s":"HEX25","d":"2018-05","v":105},{"s":"HEX25","d":"2018-07","v":104},{"s":"HEX25","d":"2018-09","v":108},{"s":"HEX25","d":"2018-11","v":98},{"s":"HEX25","d":"2019-01","v":94},{"s":"HEX25","d":"2019-03","v":100},{"s":"HEX25","d":"2019-05","v":101},{"s":"HEX25","d":"2019-07","v":105},{"s":"HEX25","d":"2019-08-15","v":101},{"s":"HEX25","d":"2019-10","v":104},{"s":"HEX25","d":"2019-12","v":109},{"s":"HEX25","d":"2020-01-20","v":114},{"s":"HEX25","d":"2020-02-19","v":118},{"s":"HEX25","d":"2020-03-23","v":83},{"s":"HEX25","d":"2020-04-15","v":95},{"s":"HEX25","d":"2020-05-15","v":98},{"s":"HEX25","d":"2020-06-19","v":106},
{"s":"VNINDEX","d":"2018-01","v":100},{"s":"VNINDEX","d":"2018-03","v":114},{"s":"VNINDEX","d":"2018-05","v":107},{"s":"VNINDEX","d":"2018-07","v":97},{"s":"VNINDEX","d":"2018-09","v":101},{"s":"VNINDEX","d":"2018-11","v":93},{"s":"VNINDEX","d":"2019-01","v":90},{"s":"VNINDEX","d":"2019-03","v":99},{"s":"VNINDEX","d":"2019-05","v":97},{"s":"VNINDEX","d":"2019-07","v":97},{"s":"VNINDEX","d":"2019-08-15","v":99},{"s":"VNINDEX","d":"2019-10","v":101},{"s":"VNINDEX","d":"2019-12","v":97},{"s":"VNINDEX","d":"2020-01-20","v":101},{"s":"VNINDEX","d":"2020-02-19","v":95},{"s":"VNINDEX","d":"2020-03-23","v":67},{"s":"VNINDEX","d":"2020-04-15","v":78},{"s":"VNINDEX","d":"2020-05-15","v":87},{"s":"VNINDEX","d":"2020-06-19","v":88},
{"s":"PX","d":"2018-01","v":100},{"s":"PX","d":"2018-03","v":102},{"s":"PX","d":"2018-05","v":105},{"s":"PX","d":"2018-07","v":101},{"s":"PX","d":"2018-09","v":100},{"s":"PX","d":"2018-11","v":98},{"s":"PX","d":"2019-01","v":92},{"s":"PX","d":"2019-03","v":98},{"s":"PX","d":"2019-05","v":99},{"s":"PX","d":"2019-07","v":98},{"s":"PX","d":"2019-08-15","v":94},{"s":"PX","d":"2019-10","v":96},{"s":"PX","d":"2019-12","v":102},{"s":"PX","d":"2020-01-20","v":104},{"s":"PX","d":"2020-02-19","v":103},{"s":"PX","d":"2020-03-23","v":68},{"s":"PX","d":"2020-04-15","v":76},{"s":"PX","d":"2020-05-15","v":77},{"s":"PX","d":"2020-06-19","v":83},
{"s":"BET","d":"2018-01","v":100},{"s":"BET","d":"2018-03","v":108},{"s":"BET","d":"2018-05","v":104},{"s":"BET","d":"2018-07","v":99},{"s":"BET","d":"2018-09","v":100},{"s":"BET","d":"2018-11","v":98},{"s":"BET","d":"2019-01","v":88},{"s":"BET","d":"2019-03","v":96},{"s":"BET","d":"2019-05","v":105},{"s":"BET","d":"2019-07","v":113},{"s":"BET","d":"2019-08-15","v":110},{"s":"BET","d":"2019-10","v":120},{"s":"BET","d":"2019-12","v":119},{"s":"BET","d":"2020-01-20","v":128},{"s":"BET","d":"2020-02-19","v":126},{"s":"BET","d":"2020-03-23","v":95},{"s":"BET","d":"2020-04-15","v":104},{"s":"BET","d":"2020-05-15","v":106},{"s":"BET","d":"2020-06-19","v":109},
{"s":"PSI20","d":"2018-01","v":100},{"s":"PSI20","d":"2018-03","v":100},{"s":"PSI20","d":"2018-05","v":102},{"s":"PSI20","d":"2018-07","v":102},{"s":"PSI20","d":"2018-09","v":101},{"s":"PSI20","d":"2018-11","v":94},{"s":"PSI20","d":"2019-01","v":88},{"s":"PSI20","d":"2019-03","v":96},{"s":"PSI20","d":"2019-05","v":96},{"s":"PSI20","d":"2019-07","v":95},{"s":"PSI20","d":"2019-08-15","v":89},{"s":"PSI20","d":"2019-10","v":92},{"s":"PSI20","d":"2019-12","v":96},{"s":"PSI20","d":"2020-01-20","v":96},{"s":"PSI20","d":"2020-02-19","v":97},{"s":"PSI20","d":"2020-03-23","v":70},{"s":"PSI20","d":"2020-04-15","v":78},{"s":"PSI20","d":"2020-05-15","v":78},{"s":"PSI20","d":"2020-06-19","v":83},
{"s":"SPBLPGPP","d":"2018-01","v":100},{"s":"SPBLPGPP","d":"2018-03","v":105},{"s":"SPBLPGPP","d":"2018-05","v":104},{"s":"SPBLPGPP","d":"2018-07","v":99},{"s":"SPBLPGPP","d":"2018-09","v":102},{"s":"SPBLPGPP","d":"2018-11","v":98},{"s":"SPBLPGPP","d":"2019-01","v":97},{"s":"SPBLPGPP","d":"2019-03","v":106},{"s":"SPBLPGPP","d":"2019-05","v":102},{"s":"SPBLPGPP","d":"2019-07","v":103},{"s":"SPBLPGPP","d":"2019-08-15","v":99},{"s":"SPBLPGPP","d":"2019-10","v":100},{"s":"SPBLPGPP","d":"2019-12","v":99},{"s":"SPBLPGPP","d":"2020-01-20","v":103},{"s":"SPBLPGPP","d":"2020-02-19","v":98},{"s":"SPBLPGPP","d":"2020-03-23","v":65},{"s":"SPBLPGPP","d":"2020-04-15","v":77},{"s":"SPBLPGPP","d":"2020-05-15","v":77},{"s":"SPBLPGPP","d":"2020-06-19","v":87},
{"s":"ASE","d":"2018-01","v":100},{"s":"ASE","d":"2018-03","v":95},{"s":"ASE","d":"2018-05","v":100},{"s":"ASE","d":"2018-07","v":95},{"s":"ASE","d":"2018-09","v":86},{"s":"ASE","d":"2018-11","v":80},{"s":"ASE","d":"2018-12-28","v":77},{"s":"ASE","d":"2019-02","v":83},{"s":"ASE","d":"2019-05","v":92},{"s":"ASE","d":"2019-06","v":104},{"s":"ASE","d":"2019-07","v":112},{"s":"ASE","d":"2019-08-15","v":106},{"s":"ASE","d":"2019-10","v":110},{"s":"ASE","d":"2019-12","v":113},{"s":"ASE","d":"2020-01-20","v":117},{"s":"ASE","d":"2020-02-19","v":121},{"s":"ASE","d":"2020-03-18","v":48},{"s":"ASE","d":"2020-04-15","v":62},{"s":"ASE","d":"2020-05-15","v":62},{"s":"ASE","d":"2020-06-19","v":68},
{"s":"NZSE50FG","d":"2018-01","v":100},{"s":"NZSE50FG","d":"2018-03","v":99},{"s":"NZSE50FG","d":"2018-05","v":103},{"s":"NZSE50FG","d":"2018-07","v":107},{"s":"NZSE50FG","d":"2018-09","v":110},{"s":"NZSE50FG","d":"2018-11","v":103},{"s":"NZSE50FG","d":"2019-01","v":106},{"s":"NZSE50FG","d":"2019-03","v":115},{"s":"NZSE50FG","d":"2019-05","v":118},{"s":"NZSE50FG","d":"2019-07","v":122},{"s":"NZSE50FG","d":"2019-08-15","v":127},{"s":"NZSE50FG","d":"2019-10","v":132},{"s":"NZSE50FG","d":"2019-12","v":141},{"s":"NZSE50FG","d":"2020-01-20","v":142},{"s":"NZSE50FG","d":"2020-02-19","v":145},{"s":"NZSE50FG","d":"2020-03-23","v":100},{"s":"NZSE50FG","d":"2020-04-15","v":120},{"s":"NZSE50FG","d":"2020-05-15","v":127},{"s":"NZSE50FG","d":"2020-06-19","v":136}
]},
"mark":{"type":"line","strokeWidth":2.8,"strokeJoin":"round"},
"encoding":{
"x":{"field":"d","type":"temporal",
"scale":{"type":"utc","domain":[{"year":2018,"month":1,"date":1,"utc":true},{"year":2020,"month":6,"date":20,"utc":true}]},
"axis":{"title":null,"format":"%d-%m-%Y","tickCount":{"interval":"month","step":1},"labelAngle":-90,"labelFontSize":13,"labelColor":"#595959","labelPadding":4,"labelOverlap":false,"labelFlush":false,"tickColor":"#BFBFBF","tickSize":5,"domainColor":"#D9D9D9","grid":false}},
"y":{"field":"v","type":"quantitative",
"scale":{"domain":[0,180],"nice":false},
"axis":{"title":null,"values":[0,20,40,60,80,100,120,140,160,180],"labelFontSize":14,"labelColor":"#595959","labelPadding":13,"domain":false,"ticks":false,"grid":true,"gridColor":"#D9D9D9","gridWidth":1}},
"color":{"field":"s","type":"nominal",
"scale":{"domain":["SPX","SHCOMP","NKY","DAX","SENSEX","UKX","CAC","FTSEMIB","IBOV","SPTSX","MOEX RX","KOSPI","IBEX","AS51","MEXBOL","JCI","AEX","SASEIDX","XU100","SMI","TWSE","WIG","SET","OMX","BEL20","ATX","NSEASI","MERVAL","OSEAX","ADSMI","TA-125","ISEQ20P","HSI","FBMKLCI","STI","TOP40","PCOMP","OMXC25","COLCAP","DSEX","EGX30","IGPA","KSE100","HEX25","VNINDEX","PX","BET","PSI20","SPBLPGPP","ASE","NZSE50FG"],
"range":["#4472C4","#ED7D31","#A5A5A5","#FFC000","#5B9BD5","#70AD47","#264478","#9E480E","#636363","#997300","#255E91","#43682B","#698ED0","#F1975A","#B7B7B7","#FFCD33","#7CAFDD","#8CC168","#335AA1","#D0601A","#848484","#CC9900","#3A7FC1","#5A8A39","#8FAADC","#F4B183","#C9C9C9","#FFD966","#9DC3E6","#A9D18E","#203864","#843C0C","#525252","#7F6000","#1F4E79","#385723","#7F9FD9","#F2A475","#C0C0C0","#FFD450","#8CBBE3","#98CA7A","#2C4E8A","#B25312","#707070","#AD8500","#2E6CA8","#4F7C34","#A5BCE3","#F6C1A0","#D4D4D4"]},
"legend":{"title":null,"orient":"none","direction":"horizontal","legendX":-18,"legendY":305,"columns":5,"gridAlign":"all","symbolLimit":60,"symbolType":"M-3,0H3","symbolSize":144,"symbolStrokeWidth":4,"labelFontSize":13,"labelColor":"#404040","labelOffset":13,"labelLimit":120,"columnPadding":2,"rowPadding":6.3,"padding":0,
"labelExpr":"datum.label == 'MOEX RX' ? 'MOEX RX Equity' : datum.label + ' Index'"}}
}
}
